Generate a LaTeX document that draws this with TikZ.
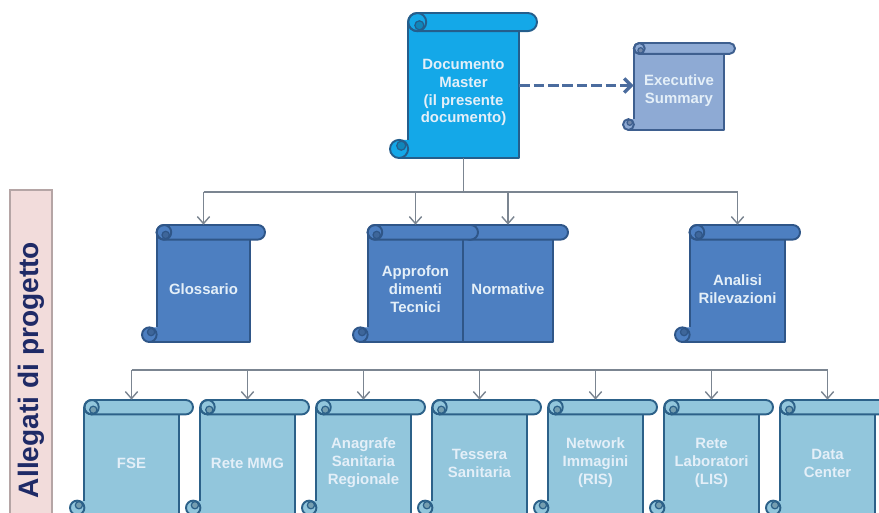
\documentclass[tikz,border=0pt]{standalone}
\usepackage{fontspec}
\setmainfont{Liberation Sans}
\usetikzlibrary{arrows.meta,calc}
\definecolor{masterfill}{HTML}{14A8E8}
\definecolor{masterline}{HTML}{245E8C}
\definecolor{execfill}{HTML}{8EAAD4}
\definecolor{execline}{HTML}{3E5F8F}
\definecolor{mediofill}{HTML}{4D7FC1}
\definecolor{medioline}{HTML}{2F5688}
\definecolor{bassofill}{HTML}{92C6DC}
\definecolor{bassoline}{HTML}{2C6189}
\definecolor{connettore}{HTML}{7B8591}
\definecolor{trattino}{HTML}{4B6C9E}
\definecolor{rosa}{HTML}{F2DCDB}
\definecolor{rosabordo}{HTML}{B5A5A5}
\definecolor{blunotte}{HTML}{1F2A66}
\definecolor{testochiaro}{HTML}{E4EFF8}
\tikzset{
  testo/.style={text=testochiaro,font=\bfseries\fontsize{8.5}{10.2}\selectfont,align=center,inner sep=0pt},
  bordo/.style={line width=1.1pt,line join=round},
  linea/.style={draw=connettore,line width=0.8pt},
  freccia/.style={linea,-{Straight Barb[length=4pt,width=7pt]}},
  tratteggio/.style={draw=trattino,line width=1.9pt,dash pattern=on 6pt off 2.2pt,-{Straight Barb[length=4pt,width=8pt]}}
}
% pergamena: nome, sinistra, cima, destra, fondo, riempimento, bordo, testo
\newcommand{\pergamena}[8]{%
  \pgfmathsetmacro\sin{#2}\pgfmathsetmacro\cim{#3}%
  \pgfmathsetmacro\des{#4}\pgfmathsetmacro\fon{#5}%
  \pgfmathsetmacro\rot{0.125*min(\des-\sin,\fon-\cim)}%
  \pgfmathsetmacro\mez{0.2846*\rot}%
  \pgfmathsetmacro\largh{0.5691*(\des-\sin-2*\rot)}%
  \pgfmathsetmacro\alt{0.5691*(\fon-\cim)}%
  \fill[#6] (\sin+\rot/2,\fon-\rot) -- (\sin+\rot,\fon-\rot) -- (\sin+\rot,\cim+\rot/2) -- (\des-\rot,\cim+\rot/2) -- (\des-\rot,\fon) -- (\sin+\rot/2,\fon) -- cycle;
  \draw[#7,bordo] (\sin+\rot,\fon-\rot) -- (\sin+\rot,\cim+\rot/2) (\des-\rot,\cim+\rot/2) -- (\des-\rot,\fon) -- (\sin+\rot/2,\fon);
  \filldraw[fill=#6,draw=#7,bordo] (\sin+\rot/2,\fon-\rot/2) circle[radius=\mez pt];
  \filldraw[fill=#6!80!black,draw=#7,line width=0.7pt] (\sin+0.62*\rot,\fon-0.68*\rot) circle[radius=0.5*\mez pt];
  \filldraw[fill=#6,draw=#7,bordo,rounded corners=\mez pt] (\sin+\rot,\cim) rectangle (\des,\cim+\rot);
  \draw[#7,bordo] (\sin+1.5*\rot,\cim+\rot/2) circle[radius=\mez pt];
  \filldraw[fill=#6!80!black,draw=#7,line width=0.7pt] (\sin+1.62*\rot,\cim+0.68*\rot) circle[radius=0.5*\mez pt];
  \node[minimum width=\largh pt,minimum height=\alt pt,inner sep=0pt,
    label={[testo,yshift=-0.22*\rot pt]center:{#8}}] (#1) at ({(\sin+\des)/2},{(\cim+\fon)/2}) {};
}
\begin{document}
\begin{tikzpicture}[x=0.02cm,y=-0.02cm]
\useasboundingbox (0,0) rectangle (879,513);
\clip (0,0) rectangle (879,513);
% etichetta laterale
\filldraw[fill=rosa,draw=rosabordo,line width=0.6pt] (10,190) rectangle (52,530);
\node[rotate=90,text=blunotte,font=\bfseries\fontsize{16}{16}\selectfont] (allegati) at (31,370) {Allegati di progetto};
% documento principale
\pergamena{master}{390}{13}{537}{158}{masterfill}{masterline}{Documento\\Master\\(il presente\\documento)}
\pergamena{executive}{623}{43}{735}{130}{execfill}{execline}{Executive\\Summary}
\draw[tratteggio] (master.east) -- (master.east -| executive.west);
% allegati
\pergamena{glossario}{142}{225}{265}{342}{mediofill}{medioline}{Glossario}
\pergamena{normative}{448}{225}{568}{342}{mediofill}{medioline}{Normative}
\pergamena{approfondimenti}{353}{225}{478}{342}{mediofill}{medioline}{Approfon\\dimenti\\Tecnici}
\pergamena{analisi}{675}{225}{800}{342}{mediofill}{medioline}{Analisi\\Rilevazioni}
\foreach \nome/\testo [count=\i from 0] in {fse/FSE,retemmg/Rete MMG,anagrafe/Anagrafe\\Sanitaria\\Regionale,tessera/Tessera\\Sanitaria,ris/Network\\Immagini\\(RIS),lis/Rete\\Laboratori\\(LIS),datacenter/Data\\Center}
  \pergamena{\nome}{70+116*\i}{400}{193+116*\i}{515}{bassofill}{bassoline}{\testo};
% connettori
\coordinate (busalto) at (464,192);
\coordinate (busbasso) at (469,370);
\draw[linea] (master.south) -- (master.south |- busalto);
\draw[linea] (glossario.north |- busalto) -- (analisi.north |- busalto);
\foreach \nome in {glossario,approfondimenti,normative,analisi}
  \draw[freccia] (\nome.north |- busalto) -- (\nome.north);
\draw[linea] ($(normative.south west)+(6,0)$) -- ($(normative.south west)+(6,0)$ |- busbasso);
\draw[linea] (fse.north |- busbasso) -- (datacenter.north |- busbasso);
\foreach \nome in {fse,retemmg,anagrafe,tessera,ris,lis,datacenter}
  \draw[freccia] (\nome.north |- busbasso) -- (\nome.north);
\end{tikzpicture}
\end{document}
